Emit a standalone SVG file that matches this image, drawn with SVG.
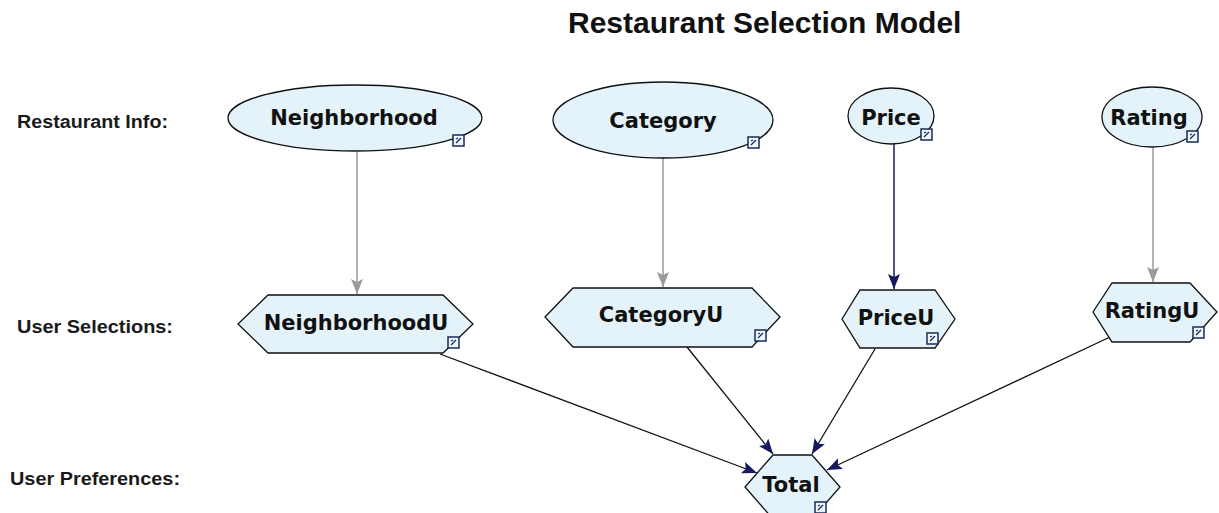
<svg xmlns="http://www.w3.org/2000/svg" width="1219" height="513" viewBox="0 0 1219 513">
<style>
.title{font-family:"Liberation Sans",Arial,sans-serif;font-weight:bold;font-size:30px;fill:#111}
.lbl{font-family:"Liberation Sans",Arial,sans-serif;font-weight:bold;font-size:18px;fill:#1a1a1a}
.nt{font-family:"DejaVu Sans",Verdana,sans-serif;font-weight:bold;font-size:21px;fill:#111;text-anchor:middle}
.node{fill:#e4f3fa;stroke:#111;stroke-width:1.3}
.icon{fill:#eef7fb;stroke:#1a2a5a;stroke-width:1.5}
.ig{stroke:#1a2a5a;stroke-width:1.3;fill:none}
.gray{stroke:#9a9a9a;stroke-width:1.5;fill:none}
.navy{stroke:#151a5e;stroke-width:1.5;fill:none}
.blk{stroke:#111;stroke-width:1.3;fill:none}
</style>
<defs>
<marker id="ag" markerUnits="userSpaceOnUse" markerWidth="16" markerHeight="12" refX="15" refY="6" orient="auto"><path d="M0,0 L15,6 L0,12 L3,6 z" fill="#9a9a9a"/></marker>
<marker id="an" markerUnits="userSpaceOnUse" markerWidth="16" markerHeight="12" refX="15" refY="6" orient="auto"><path d="M0,0 L15,6 L0,12 L3,6 z" fill="#151a5e"/></marker>
<g id="ic"><rect class="icon" x="0" y="0" width="11" height="11"/><path class="ig" d="M3,8 L8,3 M3,4 L5,3"/></g>
</defs>

<text class="title" x="568" y="33">Restaurant Selection Model</text>
<text class="lbl" x="17" y="128" textLength="151" lengthAdjust="spacingAndGlyphs">Restaurant Info:</text>
<text class="lbl" x="17" y="333" textLength="156" lengthAdjust="spacingAndGlyphs">User Selections:</text>
<text class="lbl" x="10" y="485" textLength="170" lengthAdjust="spacingAndGlyphs">User Preferences:</text>

<g id="connectors">
<line class="gray" x1="357" y1="152" x2="357" y2="294" marker-end="url(#ag)"/>
<line class="gray" x1="663" y1="158" x2="663" y2="287" marker-end="url(#ag)"/>
<line class="navy" x1="894" y1="144" x2="894" y2="289" marker-end="url(#an)"/>
<line class="gray" x1="1153" y1="147" x2="1153" y2="282" marker-end="url(#ag)"/>
<line class="blk" x1="440" y1="354" x2="757" y2="473" marker-end="url(#an)"/>
<line class="blk" x1="687" y1="347" x2="773" y2="454" marker-end="url(#an)"/>
<line class="blk" x1="875" y1="349" x2="812" y2="454" marker-end="url(#an)"/>
<line class="blk" x1="1110" y1="337" x2="827" y2="470" marker-end="url(#an)"/>
</g>

<g id="Neighborhood">
<ellipse class="node" cx="355" cy="118" rx="127" ry="33"/>
<text class="nt" x="354" y="125">Neighborhood</text>
<use href="#ic" x="453" y="135"/>
</g>
<g id="Category">
<ellipse class="node" cx="663" cy="120" rx="110" ry="38"/>
<text class="nt" x="663" y="128">Category</text>
<use href="#ic" x="748" y="137"/>
</g>
<g id="Price">
<ellipse class="node" cx="891" cy="116" rx="43" ry="28"/>
<text class="nt" x="891" y="125">Price</text>
<use href="#ic" x="921" y="129"/>
</g>
<g id="Rating">
<ellipse class="node" cx="1152" cy="117" rx="50" ry="30"/>
<text class="nt" x="1149" y="125">Rating</text>
<use href="#ic" x="1187" y="131"/>
</g>

<g id="NeighborhoodU">
<polygon class="node" points="238,324 268,295 443,295 473,324 443,353 268,353"/>
<text class="nt" x="356" y="330">NeighborhoodU</text>
<use href="#ic" x="448" y="337"/>
</g>
<g id="CategoryU">
<polygon class="node" points="545,317 573,288 752,288 780,317 752,347 573,347"/>
<text class="nt" x="661" y="322">CategoryU</text>
<use href="#ic" x="755" y="330"/>
</g>
<g id="PriceU">
<polygon class="node" points="842,319 860,290 935,290 955,319 935,348 860,348"/>
<text class="nt" x="896" y="325">PriceU</text>
<use href="#ic" x="927" y="333"/>
</g>
<g id="RatingU">
<polygon class="node" points="1093,312 1112,283 1190,283 1217,312 1190,342 1112,342"/>
<text class="nt" x="1152" y="318">RatingU</text>
<use href="#ic" x="1193" y="327"/>
</g>
<g id="Total">
<polygon class="node" points="745,487 773,455 812,455 840,487 812,519 773,519"/>
<text class="nt" x="791" y="492">Total</text>
<use href="#ic" x="815" y="502"/>
</g>
</svg>
